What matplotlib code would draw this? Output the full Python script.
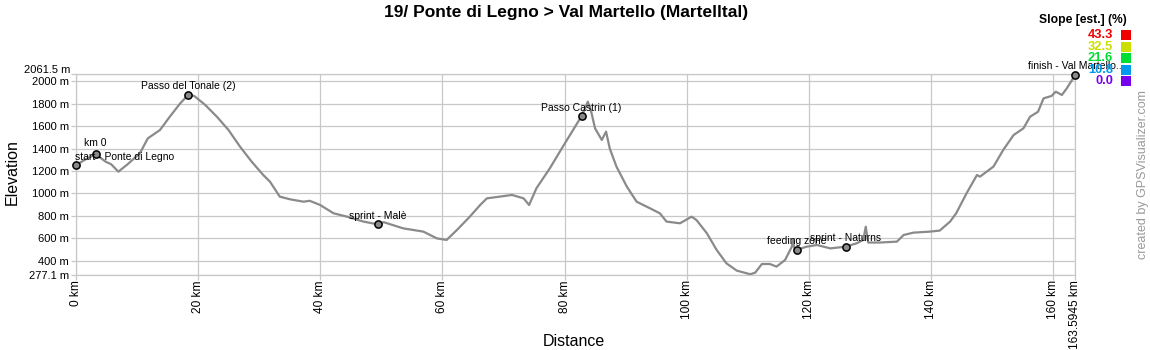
import matplotlib
matplotlib.use("Agg")
import matplotlib.pyplot as plt

plt.rcParams['font.family'] = ['Liberation Sans', 'DejaVu Sans']

# ---- data ----
dist_km = [0.0, 1.5, 3.27, 4.9, 5.8, 6.98, 8.5, 10.5, 11.8, 13.8, 15.4, 17.1, 18.4, 19.4,
           21.2, 23.1, 25.0, 26.9, 28.8, 30.7, 31.8, 33.4, 35.1, 37.3, 38.3, 40.0, 42.2,
           44.4, 47.1, 49.4, 50.4, 53.6, 56.9, 59.1, 60.7, 62.4, 64.5, 66.2, 67.3, 69.4,
           71.4, 73.3, 74.2, 75.4, 77.6, 78.9, 80.4, 82.8, 83.6, 83.8, 84.3, 85.0, 86.1,
           86.8, 87.4, 88.5, 90.2, 91.8, 94.0, 95.6, 96.7, 98.9, 100.8, 101.6, 103.3,
           104.9, 106.5, 108.2, 110.4, 111.2, 112.3, 113.6, 114.7, 116.1, 117.2, 117.4,
           117.6, 118.0, 119.6, 121.3, 123.5, 126.0, 127.8, 128.9, 129.3, 129.7, 131.6,
           134.4, 135.5, 137.1, 139.8, 141.4, 143.1, 144.1, 145.8, 147.5, 148.0, 150.2,
           151.8, 153.5, 155.1, 156.2, 157.5, 158.4, 159.7, 160.4, 161.4, 162.2, 163.5945]
elev_m = [1250, 1300, 1348, 1283, 1260, 1194, 1260, 1357, 1490, 1565, 1683, 1801, 1876, 1867,
          1787, 1683, 1565, 1416, 1283, 1164, 1105, 972, 948, 927, 935, 898, 824,
          794, 750, 726, 745, 690, 661, 601, 587, 676, 794, 898, 957, 972,
          987, 957, 898, 1046, 1224, 1342, 1476, 1689, 1787, 1816, 1742, 1579, 1476,
          1550, 1401, 1239, 1061, 927, 868, 824, 750, 735, 794, 764, 646,
          498, 379, 314, 282, 296, 373, 373, 350, 409, 527, 587,
          520, 498, 527, 542, 512, 527, 557, 587, 705, 564, 564,
          572, 631, 652, 661, 670, 750, 824, 1002, 1164, 1150, 1239,
          1387, 1520, 1579, 1683, 1727, 1846, 1867, 1905, 1876, 1935, 2055]

wp_names = ["start - Ponte di Legno", "km 0", "Passo del Tonale (2)", "sprint - Malè",
            "Passo Castrin (1)", "feeding zone", "sprint - Naturns", "finish - Val Martello.."]
wp_km = [0.0, 3.27, 18.4, 49.4, 82.8, 118.0, 126.0, 163.5945]
wp_elev = [1250, 1348, 1876, 726, 1689, 498, 527, 2055]
wp_align = ["left", "center", "center", "center", "center", "center", "center", "center"]

y_ticks = [277.1, 400, 600, 800, 1000, 1200, 1400, 1600, 1800, 2000, 2061.5]
y_labels = ["277.1 m", "400 m", "600 m", "800 m", "1000 m", "1200 m", "1400 m",
            "1600 m", "1800 m", "2000 m", ""]
x_ticks = [0, 20, 40, 60, 80, 100, 120, 140, 160, 163.5945]
x_labels = ["0 km", "20 km", "40 km", "60 km", "80 km", "100 km", "120 km", "140 km",
            "160 km", "163.5945 km"]

slope_vals = ["43.3", "32.5", "21.6", "10.8", "0.0"]
slope_colors = ["#ee0000", "#ccdd00", "#00dd33", "#0099ee", "#7700ee"]

# ---- figure ----
W, H = 1150, 350
fig = plt.figure(figsize=(W / 100, H / 100), dpi=100)
x0, x1, yt, yb = 75.7, 1075.3, 74.1, 274.8
ax = fig.add_axes([x0 / W, 1 - yb / H, (x1 - x0) / W, (yb - yt) / H])

grid_c = "#c8c8c8"
ax.set_xlim(0, 163.5945)
ax.set_ylim(277.1, 2061.5)
ax.set_xticks(x_ticks)
ax.set_xticklabels(x_labels, rotation=90, va='top', ha='center', fontsize=8.6)
ax.set_yticks(y_ticks)
ax.set_yticklabels(y_labels, fontsize=8)
ax.tick_params(axis='both', color=grid_c, length=3.5, width=0.9, pad=1.5)
ax.tick_params(axis='x', pad=0.5)
ax.grid(True, color=grid_c, linewidth=0.9)
ax.set_axisbelow(True)
for s in ax.spines.values():
    s.set_color(grid_c)
    s.set_linewidth(0.9)

ax.annotate("2061.5 m", xy=(0, 2061.5), xycoords=('axes fraction', 'data'),
            xytext=(-4, 3), textcoords='offset points', ha='right', va='center', fontsize=8)

ax.plot(dist_km, elev_m, color="#8a8a8a", linewidth=1.6, solid_joinstyle='round', zorder=3)

ax.plot(wp_km, wp_elev, linestyle='none', marker='o', markersize=5.2,
        markerfacecolor="#8a8a8a", markeredgecolor="black", markeredgewidth=1.1,
        zorder=5, clip_on=False)
for name, k, e, al in zip(wp_names, wp_km, wp_elev, wp_align):
    dy = 4.5 if name == "km 0" else 2.5
    dx = -0.5 if al == "left" else 0
    ax.annotate(name, xy=(k, e), xytext=(dx, dy), textcoords='offset points',
                ha=al, va='bottom', fontsize=7.5, zorder=6, annotation_clip=False)

fig.text(12 / W, 1 - 172 / H, "Elevation", rotation=90, ha='center', va='center',
         fontsize=11.5)
fig.text(574 / W, 1 - 342 / H, "Distance", ha='center', va='center', fontsize=11.5)

fig.text(566 / W, 1 - 12 / H, "19/ Ponte di Legno > Val Martello (Martelltal)",
         ha='center', va='center', fontsize=12.5, fontweight='bold')

# slope legend
fig.text(1083 / W, 1 - 20.5 / H, "Slope [est.] (%)", ha='center', va='center',
         fontsize=8.7, fontweight='bold')
for i, (v, c) in enumerate(zip(slope_vals, slope_colors)):
    yc = 35 + i * 11.6
    fig.text(1113 / W, 1 - yc / H, v, ha='right', va='center', color=c,
             fontsize=9.3, fontweight='bold')
    fig.patches.append(plt.Rectangle((1121 / W, 1 - (yc + 5) / H), 10 / W, 10 / H,
                                     transform=fig.transFigure, facecolor=c,
                                     edgecolor='none', figure=fig))

fig.text(1143 / W, 1 - 175 / H, "created by GPSVisualizer.com", rotation=90,
         ha='center', va='center', color="#999999", fontsize=9)

fig.savefig("out.png", dpi=100, facecolor='white')
